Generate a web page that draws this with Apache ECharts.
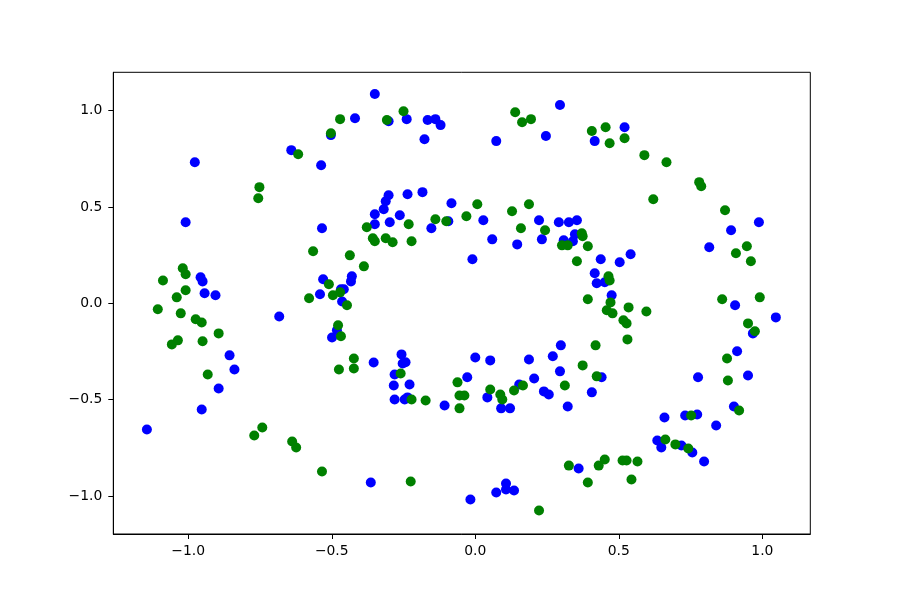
<!DOCTYPE html>
<html>
<head>
<meta charset="utf-8">
<script src="https://cdn.jsdelivr.net/npm/echarts@6/dist/echarts.min.js"></script>
<style>
html,body{margin:0;padding:0;background:#fff;}
#chart{width:900px;height:600px;}
</style>
</head>
<body>
<div id="chart"></div>
<script>
const xTicks = [-1.0, -0.5, 0.0, 0.5, 1.0];
const yTicks = [-1.0, -0.5, 0.0, 0.5, 1.0];

const blueX = [-0.419,-0.641,-0.537,-0.977,-1.009,-0.534,-0.957,-0.950,-0.943,-0.905,-0.530,-0.468,-0.458,-0.541,-0.464,-0.430,-0.433,-0.856,-0.839,-0.894,-0.953,-1.144,-0.683,-0.482,-0.499,-0.350,-0.302,-0.239,-0.166,-0.139,-0.121,-0.177,0.295,0.246,0.073,-0.302,-0.312,-0.319,-0.350,-0.350,-0.298,-0.263,-0.236,-0.184,-0.083,-0.153,-0.094,0.028,0.059,-0.010,0.146,0.222,0.232,0.291,0.326,0.354,0.347,0.308,0.340,0.520,0.416,0.988,0.891,0.815,0.905,0.437,0.503,0.541,0.416,0.423,0.451,0.475,1.047,0.967,0.912,0.440,0.406,0.776,0.950,0.901,0.839,0.659,0.731,0.773,0.634,0.648,0.718,0.756,0.797,0.360,-0.354,-0.257,-0.253,-0.243,-0.281,-0.284,-0.229,-0.281,-0.246,-0.236,-0.107,-0.028,0.000,0.052,0.042,0.090,0.121,0.153,0.187,0.205,0.239,0.256,0.270,0.298,0.295,0.322,-0.364,-0.017,0.073,0.107,0.107,0.135,-0.503];
const blueY = [0.961,0.795,0.717,0.732,0.421,0.390,0.135,0.114,0.052,0.042,0.125,0.073,0.073,0.047,0.010,0.140,0.114,-0.270,-0.343,-0.442,-0.551,-0.655,-0.068,-0.140,-0.177,1.086,0.945,0.956,0.951,0.956,0.925,0.852,1.029,0.868,0.842,0.561,0.530,0.488,0.462,0.410,0.421,0.457,0.566,0.577,0.519,0.390,0.426,0.431,0.332,0.229,0.306,0.431,0.332,0.421,0.421,0.431,0.358,0.327,0.322,0.914,0.842,0.421,0.379,0.291,-0.010,0.229,0.213,0.255,0.156,0.104,0.109,0.042,-0.073,-0.156,-0.249,-0.384,-0.462,-0.384,-0.374,-0.535,-0.634,-0.592,-0.582,-0.577,-0.712,-0.748,-0.738,-0.774,-0.821,-0.857,-0.307,-0.265,-0.312,-0.306,-0.369,-0.426,-0.421,-0.499,-0.499,-0.488,-0.530,-0.384,-0.281,-0.296,-0.488,-0.545,-0.545,-0.421,-0.291,-0.390,-0.457,-0.473,-0.275,-0.218,-0.353,-0.535,-0.930,-1.018,-0.982,-0.935,-0.966,-0.971,0.873];

const greenX = [-0.471,-0.503,-0.617,-0.752,-0.756,-0.565,-0.437,-1.019,-1.009,-1.088,-1.009,-1.040,-0.510,-0.496,-0.471,-0.579,-0.447,-1.106,-1.026,-0.974,-0.953,-0.894,-1.036,-1.057,-0.950,-0.932,-0.742,-0.770,-0.638,-0.624,-0.534,-0.478,-0.468,-0.475,-0.423,-0.423,-0.250,-0.308,0.139,0.163,0.194,-0.378,-0.232,-0.357,-0.350,-0.312,-0.288,-0.222,-0.139,-0.101,-0.031,0.007,0.128,0.187,0.159,0.243,0.371,0.302,0.322,0.354,-0.388,0.406,0.454,0.468,0.520,0.589,0.666,0.780,0.787,0.620,0.870,0.908,0.946,0.960,0.860,0.991,0.374,0.392,0.464,0.468,0.392,0.471,0.534,0.458,0.478,0.596,0.516,0.527,0.530,0.419,0.950,0.974,0.877,0.374,0.423,0.880,0.919,0.752,0.662,0.697,0.742,0.430,0.451,0.513,0.527,0.565,0.392,0.544,-0.260,-0.222,-0.173,-0.062,-0.055,-0.038,-0.055,0.052,0.087,0.094,0.135,0.166,0.312,-0.225,0.222,0.326];
const greenY = [0.956,0.883,0.774,0.603,0.545,0.270,0.249,0.182,0.151,0.119,0.068,0.031,0.099,0.042,0.057,0.026,-0.010,-0.031,-0.052,-0.083,-0.099,-0.156,-0.192,-0.213,-0.197,-0.369,-0.644,-0.686,-0.717,-0.748,-0.873,-0.114,-0.171,-0.343,-0.286,-0.338,0.997,0.951,0.992,0.940,0.956,0.395,0.410,0.338,0.322,0.338,0.317,0.322,0.436,0.426,0.452,0.514,0.478,0.514,0.390,0.379,0.364,0.301,0.301,0.218,0.192,0.894,0.914,0.831,0.857,0.769,0.732,0.629,0.608,0.540,0.483,0.260,0.296,0.218,0.021,0.031,0.348,0.296,0.140,0.119,0.021,0.005,-0.021,-0.036,-0.052,-0.042,-0.088,-0.104,-0.187,-0.218,-0.104,-0.145,-0.286,-0.322,-0.379,-0.400,-0.556,-0.582,-0.707,-0.732,-0.753,-0.842,-0.810,-0.816,-0.816,-0.821,-0.930,-0.914,-0.364,-0.499,-0.504,-0.410,-0.478,-0.478,-0.545,-0.447,-0.473,-0.499,-0.452,-0.426,-0.426,-0.925,-1.075,-0.842];

function pairs(xs, ys){ return xs.map((x,i)=>[x, ys[i]]); }
function fmt(v){ return v.toFixed(1).replace('-', '\u2212'); }

const chart = echarts.init(document.getElementById('chart'), null, {renderer:'canvas'});
const labelStyle = {color:'#000', fontFamily:'DejaVu Sans', fontSize:13.9};
chart.setOption({
  animation:false,
  backgroundColor:'#fff',
  grid:{left:113.3, top:72.3, right:89.7, bottom:66, show:true, borderColor:'#000', borderWidth:1, backgroundColor:'transparent'},
  xAxis:{type:'value', min:-1.261, max:1.167,
    axisLine:{show:true, onZero:false, lineStyle:{color:'#000', width:1}},
    axisTick:{show:true, length:5, lineStyle:{color:'#000'}, customValues:xTicks},
    axisLabel:Object.assign({margin:10, formatter:fmt, customValues:xTicks}, labelStyle),
    splitLine:{show:false}},
  yAxis:{type:'value', min:-1.197, max:1.199,
    axisLine:{show:true, onZero:false, lineStyle:{color:'#000', width:1}},
    axisTick:{show:true, length:5, lineStyle:{color:'#000'}, customValues:yTicks},
    axisLabel:Object.assign({margin:11, formatter:fmt, customValues:yTicks}, labelStyle),
    splitLine:{show:false}},
  series:[
    {type:'scatter', data:pairs(blueX, blueY), symbol:'circle', symbolSize:10, itemStyle:{color:'#0000ff', opacity:1}, z:2},
    {type:'scatter', data:pairs(greenX, greenY), symbol:'circle', symbolSize:10, itemStyle:{color:'#008000', opacity:1}, z:3}
  ]
});
</script>
</body>
</html>
